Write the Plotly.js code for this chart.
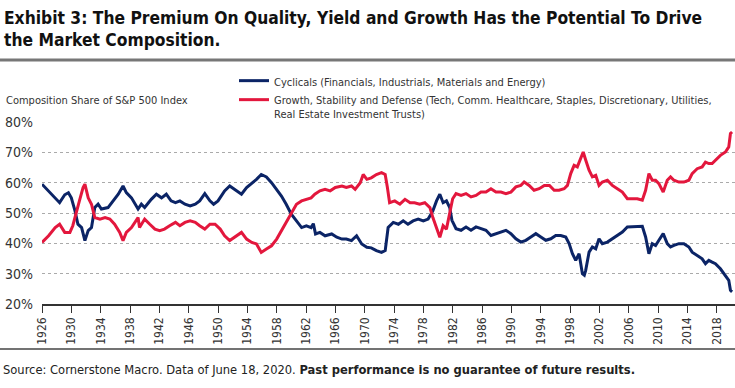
<!DOCTYPE html>
<html>
<head>
<meta charset="utf-8">
<script src="https://cdn.plot.ly/plotly-3.0.1.min.js"></script>
<style>html,body{margin:0;padding:0;background:#fff;}#chart{width:735px;height:388px;}</style>
</head>
<body>
<div id="chart"></div>
<script>
// Cyclicals (Financials, Industrials, Materials and Energy)
const cycYears = [1926.0,1926.9,1927.8,1928.4,1929.1,1929.6,1930.0,1930.5,1930.9,1931.4,1931.85,1932.3,1932.75,1933.2,1933.65,1934.1,1935.0,1935.7,1936.4,1937.05,1937.5,1938.2,1938.65,1939.1,1939.55,1940.0,1940.9,1941.6,1942.3,1942.95,1943.6,1944.2,1944.8,1945.5,1946.2,1946.9,1947.5,1948.2,1948.9,1949.4,1950.0,1950.9,1951.6,1952.3,1953.2,1953.9,1954.6,1955.25,1955.9,1956.6,1957.3,1958.0,1958.65,1959.3,1960.0,1960.7,1961.4,1962.05,1962.7,1963.0,1963.3,1963.9,1964.6,1965.5,1966.2,1966.9,1967.5,1968.2,1968.9,1969.6,1970.3,1970.9,1971.6,1972.3,1972.8,1973.2,1973.9,1974.6,1975.25,1975.9,1976.6,1977.3,1978.0,1978.65,1979.3,1979.8,1980.25,1980.7,1981.15,1981.6,1981.9,1982.46,1983.14,1983.82,1984.5,1985.18,1985.86,1986.54,1987.22,1987.9,1988.58,1989.26,1989.94,1990.62,1991.3,1991.98,1992.66,1993.34,1994.02,1994.7,1995.38,1996.06,1996.74,1997.42,1997.88,1998.33,1998.78,1999.24,1999.69,1999.95,2000.14,2000.4,2000.6,2001.05,2001.51,2001.96,2002.41,2003.1,2003.77,2004.46,2005.14,2005.82,2006.5,2007.18,2007.86,2008.31,2008.76,2009.22,2009.67,2010.12,2010.71,2011.26,2011.71,2012.17,2012.85,2013.53,2014.21,2014.66,2015.34,2016.02,2016.47,2016.93,2017.38,2017.83,2018.51,2019.2,2019.65,2019.88,2020.1];
const cycShare = [59.5,57.3,55.0,53.4,56.0,56.7,55.0,50.7,46.3,45.2,40.9,44.2,45.2,51.8,52.9,51.3,51.8,54.0,56.2,58.9,56.7,55.0,52.9,51.3,52.9,51.8,54.5,56.2,55.0,56.2,54.0,53.4,54.0,52.9,52.3,52.9,54.0,56.4,54.0,52.9,54.0,57.3,58.9,57.8,56.2,58.4,59.7,61.1,62.7,61.9,60.0,57.8,55.6,52.9,49.6,47.4,45.2,45.8,45.2,46.5,43.1,43.6,42.5,43.1,42.0,41.4,41.4,40.9,42.5,39.8,38.7,38.5,37.6,37.0,37.6,45.2,46.9,46.3,47.4,46.3,47.4,48.0,47.4,48.0,50.7,54.0,56.2,53.4,54.0,51.8,47.6,44.8,44.3,45.4,44.3,45.4,44.8,44.3,42.6,43.2,43.7,44.3,43.2,41.5,40.4,41.0,42.1,43.2,42.1,41.0,41.5,42.6,42.6,42.1,39.9,36.6,34.4,36.6,30.0,29.5,31.1,34.4,37.1,38.8,38.2,41.5,39.9,40.4,41.5,42.6,43.7,45.4,45.4,45.4,45.6,42.1,36.6,39.9,39.3,41.0,43.2,39.9,38.8,39.3,39.9,39.9,38.8,37.1,36.0,34.9,33.3,34.4,33.8,33.3,31.6,29.4,27.8,24.5,24.0];

// Growth, Stability and Defense
const growthYears = [1926.0,1926.9,1927.8,1928.4,1929.1,1929.8,1930.2,1930.7,1931.1,1931.6,1931.85,1932.3,1932.75,1933.2,1933.9,1934.6,1935.25,1935.9,1936.6,1937.05,1937.5,1938.2,1938.65,1939.1,1939.3,1940.0,1940.7,1941.4,1942.05,1942.7,1943.4,1944.2,1944.8,1945.5,1946.2,1946.9,1947.5,1948.2,1948.9,1949.6,1950.3,1950.9,1951.6,1952.3,1953.2,1953.9,1954.6,1955.25,1955.9,1956.6,1957.3,1958.0,1958.65,1959.3,1960.0,1960.7,1961.4,1962.05,1962.7,1963.2,1963.9,1964.6,1965.3,1966.0,1966.9,1967.5,1968.2,1968.7,1969.4,1969.8,1970.3,1970.9,1971.6,1972.3,1972.8,1973.1,1973.4,1974.1,1974.8,1975.5,1976.2,1976.8,1977.5,1978.2,1978.9,1979.3,1979.8,1980.25,1980.7,1981.15,1981.6,1982.0,1982.46,1983.14,1983.82,1984.5,1985.18,1985.86,1986.54,1987.22,1987.9,1988.58,1989.26,1989.94,1990.62,1991.3,1991.75,1992.43,1993.1,1993.8,1994.5,1995.2,1995.84,1996.5,1997.2,1997.65,1998.1,1998.56,1999.0,1999.46,1999.8,2000.15,2000.6,2001.05,2001.51,2001.96,2002.41,2003.1,2003.77,2004.46,2005.14,2005.82,2006.5,2007.18,2007.86,2008.31,2008.76,2009.22,2009.67,2010.12,2010.71,2011.26,2011.71,2012.17,2012.85,2013.53,2014.21,2014.66,2015.34,2016.02,2016.47,2016.93,2017.38,2017.83,2018.51,2019.2,2019.65,2019.88,2020.1];
const growthShare = [40.3,42.5,45.2,46.3,43.6,43.6,45.8,50.7,54.0,58.4,59.5,55.0,52.9,48.5,48.0,48.5,48.0,46.3,43.6,40.9,43.6,45.2,46.9,48.5,45.2,48.0,46.3,44.7,44.2,44.7,45.8,46.9,45.8,46.9,47.4,46.9,45.8,44.7,46.3,46.3,44.7,42.5,40.9,42.0,43.6,41.4,40.3,39.8,37.0,38.1,39.2,41.4,44.2,46.9,50.2,52.9,54.0,54.5,55.0,56.2,57.3,57.8,57.3,58.4,58.9,58.4,58.9,57.8,60.0,62.7,61.1,61.6,62.7,63.3,62.7,58.4,53.4,54.0,52.9,54.5,53.4,53.4,52.9,53.4,51.8,48.5,45.2,42.0,45.8,44.7,50.0,54.7,56.4,55.8,56.4,55.3,55.8,56.9,56.9,58.0,56.9,56.9,56.4,56.9,58.6,59.1,60.2,59.1,57.5,58.0,59.1,59.1,57.5,57.5,58.0,59.1,63.0,65.7,65.2,67.9,70.1,67.4,64.1,61.9,62.4,59.1,60.2,60.8,59.1,58.0,56.9,54.7,54.7,54.7,54.2,57.5,63.0,60.8,60.8,59.7,56.9,60.8,61.9,60.8,60.2,60.2,60.8,63.0,64.6,65.2,66.8,66.3,66.3,67.4,69.0,70.1,71.8,76.2,76.7];

const seriesNames = [
  'Cyclicals (Financials, Industrials, Materials and Energy)',
  'Growth, Stability and Defense (Tech, Comm. Healthcare, Staples, Discretionary, Utilities,<br>Real Estate Investment Trusts)'
];
const titleText = 'Exhibit 3: The Premium On Quality, Yield and Growth Has the Potential To Drive<br>the Market Composition.';
const yAxisLabel = 'Composition Share of S&P 500 Index';
const sourceText = 'Source: Cornerstone Macro. Data of June 18, 2020. <b>Past performance is no guarantee of future results.</b>';

const FONT = '"DejaVu Sans Condensed", "Liberation Sans Narrow", sans-serif';
const BLUE = '#0b2466';
const RED = '#e3173d';

const W = 735, H = 388;
const L = 42, R = 0, T = 122, B = 84;
const pw = W - L - R, ph = H - T - B;
const px = v => (v - L) / pw;        // pixel x -> paper x
const py = v => (H - B - v) / ph;    // pixel y -> paper y

const traces = [
  {x: cycYears, y: cycShare, type: 'scatter', mode: 'lines', name: seriesNames[0],
   line: {color: BLUE, width: 3}},
  {x: growthYears, y: growthShare, type: 'scatter', mode: 'lines', name: seriesNames[1],
   line: {color: RED, width: 3}}
];

const layout = {
  width: W, height: H,
  margin: {l: L, r: R, t: T, b: B, pad: 0},
  paper_bgcolor: '#fff', plot_bgcolor: '#fff',
  font: {family: FONT, color: '#333', size: 12},
  showlegend: true,
  legend: {
    x: px(234), xanchor: 'left', y: py(67), yanchor: 'top',
    bgcolor: '#fff', borderwidth: 0,
    font: {family: FONT, size: 11, color: '#333'},
    valign: 'top', traceorder: 'normal', itemclick: false
  },
  xaxis: {
    range: [1926, 2020.5], tickmode: 'linear', tick0: 1926, dtick: 4,
    ticks: 'outside', ticklen: 7, tickwidth: 1, tickcolor: '#333',
    showline: true, linecolor: '#333', linewidth: 1.5,
    showgrid: false, zeroline: false, tickangle: -90,
    tickfont: {family: FONT, size: 12, color: '#333'}
  },
  yaxis: {
    range: [20, 80], tickmode: 'linear', tick0: 20, dtick: 10, ticksuffix: '%',
    showgrid: true, gridcolor: '#aaa', gridwidth: 1, griddash: 'dot',
    zeroline: false, showline: false, ticks: '', ticklabelstandoff: 8,
    tickfont: {family: FONT, size: 14, color: '#333'}
  },
  annotations: [
    {text: titleText, xref: 'paper', yref: 'paper', x: px(2), y: py(6),
     xanchor: 'left', yanchor: 'top', align: 'left', showarrow: false,
     font: {family: FONT, size: 17.3, color: '#111', weight: 'bold'}},
    {text: yAxisLabel, xref: 'paper', yref: 'paper', x: px(4), y: py(100),
     xanchor: 'left', yanchor: 'middle', showarrow: false,
     font: {family: FONT, size: 11, color: '#333'}},
    {text: sourceText, xref: 'paper', yref: 'paper', x: px(1), y: py(369),
     xanchor: 'left', yanchor: 'middle', showarrow: false,
     font: {family: FONT, size: 12.8, color: '#222'}}
  ],
  shapes: [
    {type: 'line', xref: 'paper', yref: 'paper', x0: px(0), x1: px(W), y0: py(60), y1: py(60),
     line: {color: '#777', width: 3}},
    {type: 'line', xref: 'paper', yref: 'paper', x0: px(0), x1: px(W), y0: py(349), y1: py(349),
     line: {color: '#444', width: 1.5}}
  ]
};

Plotly.newPlot('chart', traces, layout, {staticPlot: true, displayModeBar: false});
</script>
</body>
</html>
